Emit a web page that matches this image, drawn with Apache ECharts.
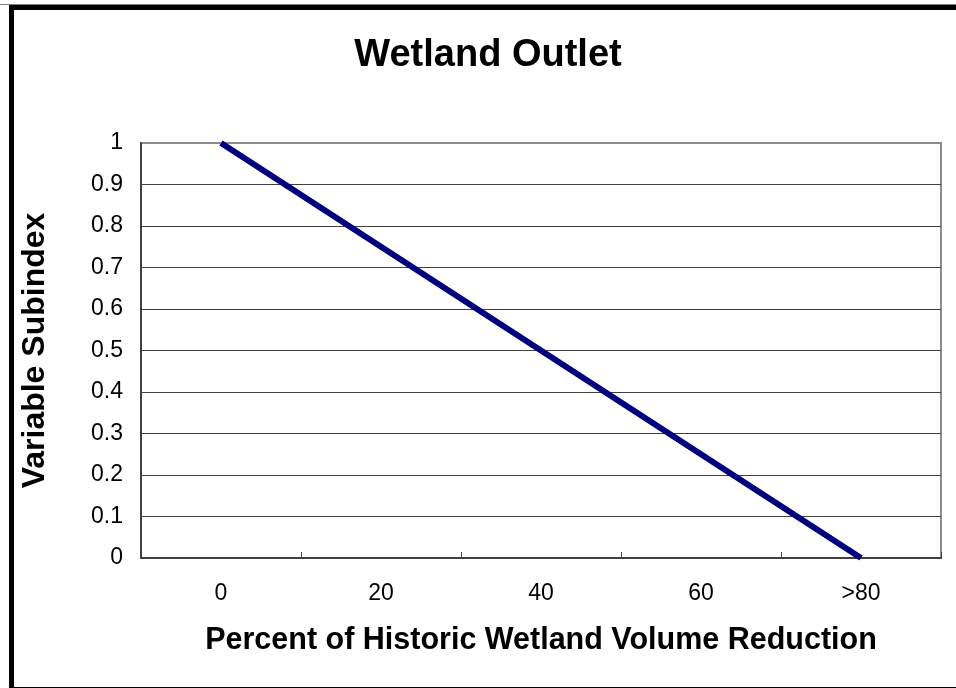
<!DOCTYPE html>
<html>
<head>
<meta charset="utf-8">
<script src="https://cdn.jsdelivr.net/npm/echarts@6/dist/echarts.min.js"></script>
<style>
html,body{margin:0;padding:0;background:#fff;}
#chart{width:956px;height:688px;}
</style>
</head>
<body>
<div id="chart"></div>
<script>
var titleText = 'Wetland Outlet';
var xAxisName = 'Percent of Historic Wetland Volume Reduction';
var yAxisName = 'Variable Subindex';
var categories = ['0', '20', '40', '60', '>80'];
var subindexValues = [1, 0.75, 0.5, 0.25, 0];

var chart = echarts.init(document.getElementById('chart'));
var font = 'Arial, "Liberation Sans", sans-serif';
chart.setOption({
  backgroundColor: '#ffffff',
  animation: false,
  title: {
    text: titleText,
    left: 483,
    top: 32,
    textAlign: 'center',
    textStyle: {fontFamily: font, fontSize: 38, fontWeight: 'bold', color: '#000'}
  },
  graphic: [
    {type: 'rect', shape: {x: 0, y: 4, width: 956, height: 1}, style: {fill: '#808080'}, silent: true},
    {type: 'rect', shape: {x: 9, y: 5, width: 947, height: 5}, style: {fill: '#000'}, silent: true},
    {type: 'rect', shape: {x: 9, y: 5, width: 5, height: 683}, style: {fill: '#000'}, silent: true},
    {type: 'rect', shape: {x: 9, y: 687, width: 947, height: 1}, style: {fill: '#000'}, silent: true}
  ],
  grid: {
    left: 141, right: 15, top: 143, bottom: 130,
    show: true,
    borderColor: '#8c8c8c',
    borderWidth: 2,
    backgroundColor: 'transparent'
  },
  xAxis: {
    type: 'category',
    data: categories,
    boundaryGap: true,
    name: xAxisName,
    nameLocation: 'middle',
    nameGap: 67,
    nameTextStyle: {fontFamily: font, fontSize: 30.5, fontWeight: 'bold', color: '#000'},
    axisLine: {lineStyle: {color: '#404040', width: 2}},
    axisTick: {show: true, inside: true, length: 6, alignWithLabel: false, lineStyle: {color: '#404040', width: 1}},
    axisLabel: {fontFamily: font, fontSize: 23, color: '#000', margin: 24},
    splitLine: {show: false}
  },
  yAxis: {
    type: 'value',
    min: 0,
    max: 1,
    interval: 0.1,
    name: yAxisName,
    nameLocation: 'middle',
    nameGap: 90,
    nameTextStyle: {fontFamily: font, fontSize: 32, fontWeight: 'bold', color: '#000'},
    axisLine: {show: true, lineStyle: {color: '#404040', width: 2}},
    axisTick: {show: false},
    axisLabel: {fontFamily: font, fontSize: 23, color: '#000', margin: 18,
      formatter: function (v) { return String(Math.round(v * 10) / 10); }},
    splitLine: {show: true, showMinLine: false, showMaxLine: false, lineStyle: {color: '#404040', width: 1}}
  },
  series: [{
    type: 'line',
    data: subindexValues,
    symbol: 'none',
    clip: true,
    lineStyle: {color: '#000080', width: 6, cap: 'butt'}
  }]
});
</script>
</body>
</html>
